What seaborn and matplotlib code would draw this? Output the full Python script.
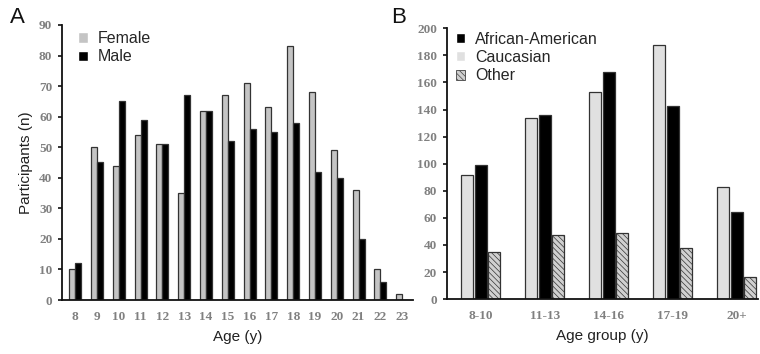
import numpy as np
import pandas as pd
import seaborn as sb
import matplotlib.pyplot as plt
from matplotlib.patches import Patch

# Panel A: participants by age and sex
ages = [str(a) for a in range(8, 24)]
female = [10, 50, 44, 54, 51, 35, 62, 67, 71, 63, 83, 68, 49, 36, 10, 2]
male = [12, 45, 65, 59, 51, 67, 62, 52, 56, 55, 58, 42, 40, 20, 6, 0]

# Panel B: participants by age group and race
groups = ["8-10", "11-13", "14-16", "17-19", "20+"]
caucasian = [92, 134, 153, 188, 83]
african_american = [99, 136, 168, 143, 64]
other = [35, 47, 49, 38, 16]

sb.set_style("ticks")
plt.rcParams['font.family'] = ['Liberation Sans', 'DejaVu Sans']
plt.rcParams['hatch.linewidth'] = 0.5
plt.rcParams['hatch.color'] = '#666666'

tick_font = dict(family='Liberation Serif', weight='bold', color='#808080')

df_a = pd.DataFrame({
    'age': ages * 2,
    'n': female + male,
    'sex': ['Female'] * len(ages) + ['Male'] * len(ages)
})
df_b = pd.DataFrame({
    'group': groups * 3,
    'n': caucasian + african_american + other,
    'race': ['Caucasian'] * 5 + ['African-American'] * 5 + ['Other'] * 5
})

fig = plt.figure(figsize=(7.6, 3.54), dpi=100)
ax1 = fig.add_axes([0.0816, 0.1525, 0.462, 0.777])
ax2 = fig.add_axes([0.588, 0.155, 0.41, 0.765])

# Panel A
sb.barplot(data=df_a, x='age', y='n', hue='sex', hue_order=['Female', 'Male'],
           palette=['#c4c4c4', '#000000'], width=0.55, edgecolor='#333333',
           linewidth=0.9, ax=ax1, legend=False)
ax1.set_xlim(-0.6, 15.5)
ax1.set_ylim(0, 90)
ax1.set_yticks(np.arange(0, 91, 10))
ax1.set_xlabel('Age (y)', fontsize=11, color='#222222', labelpad=5)
ax1.set_ylabel('Participants (n)', fontsize=11, color='#222222')
ax1.legend(handles=[Patch(facecolor='#c4c4c4', label='Female'),
                    Patch(facecolor='#000000', label='Male')],
           loc='upper left', bbox_to_anchor=(0.005, 1.03), frameon=False,
           fontsize=11.5, handlelength=0.6, handleheight=0.6,
           handletextpad=0.6, labelspacing=0.2)

# Panel B
sb.barplot(data=df_b, x='group', y='n', hue='race',
           hue_order=['Caucasian', 'African-American', 'Other'],
           palette=['#e0e0e0', '#000000', '#d0d0d0'], width=0.64, gap=0.12,
           edgecolor='#333333', linewidth=0.9, ax=ax2, legend=False)
for bar in ax2.containers[2]:
    bar.set_hatch('\\\\\\\\\\\\')
ax2.set_xlim(-0.53, 4.34)
ax2.set_ylim(0, 200)
ax2.set_yticks(np.arange(0, 201, 20))
ax2.set_xlabel('Age group (y)', fontsize=11, color='#222222', labelpad=5)
ax2.set_ylabel('')
ax2.legend(handles=[Patch(facecolor='#000000', label='African-American'),
                    Patch(facecolor='#e0e0e0', label='Caucasian'),
                    Patch(facecolor='#d0d0d0', edgecolor='#444444', hatch='\\\\\\\\\\\\',
                          linewidth=0.6, label='Other')],
           loc='upper left', bbox_to_anchor=(-0.018, 1.04), frameon=False,
           fontsize=11.5, handlelength=0.6, handleheight=0.6,
           handletextpad=0.6, labelspacing=0.2)

for ax in (ax1, ax2):
    sb.despine(ax=ax)
    ax.spines['left'].set_linewidth(1.3)
    ax.spines['bottom'].set_linewidth(1.3)
    ax.spines['left'].set_color('#111111')
    ax.spines['bottom'].set_color('#111111')
    ax.tick_params(axis='y', length=3, width=1.2, color='#111111', pad=4)
    ax.tick_params(axis='x', length=0, pad=8)
    for lab in ax.get_yticklabels():
        lab.set(**tick_font, fontsize=9.5)
    for lab in ax.get_xticklabels():
        lab.set(**tick_font, fontsize=9.5)

fig.text(0.013, 0.935, 'A', fontsize=16, color='#111111')
fig.text(0.515, 0.935, 'B', fontsize=16, color='#111111')

fig.savefig('out.png', dpi=100)
